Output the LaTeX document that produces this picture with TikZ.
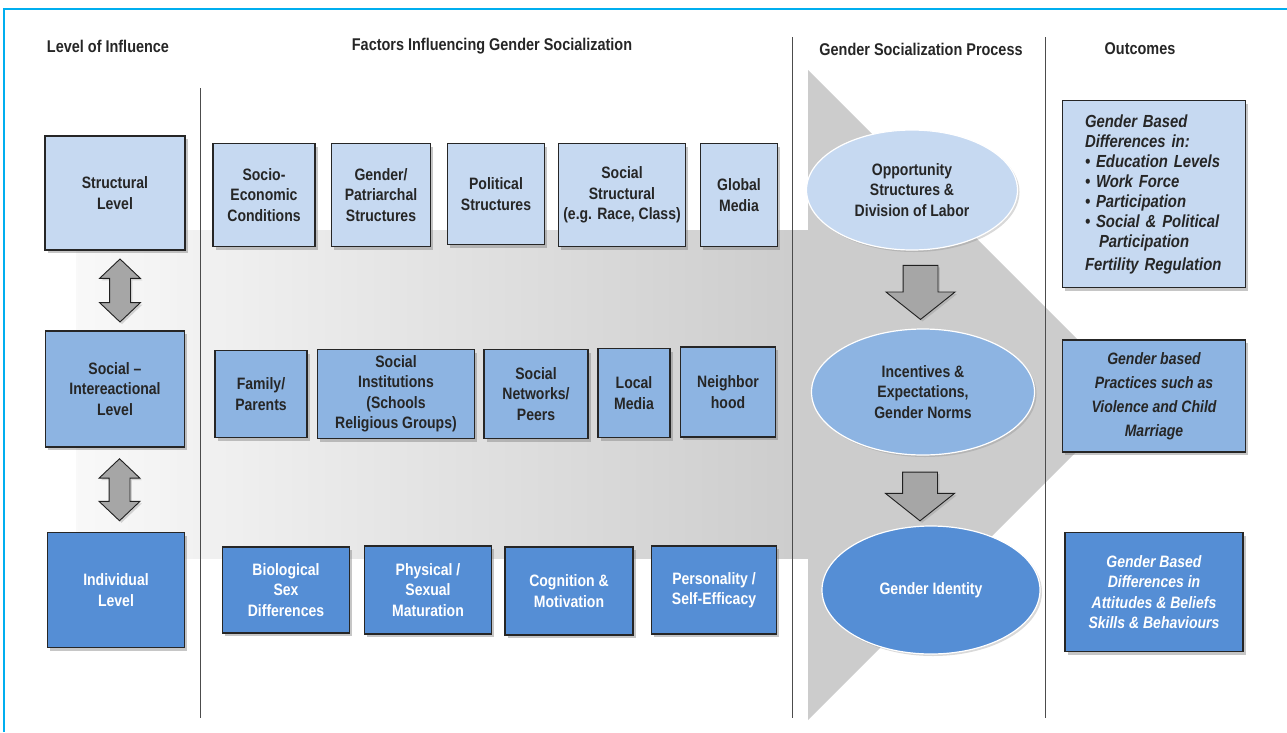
\documentclass[tikz,border=0pt]{standalone}
\usepackage{fontspec}
\setmainfont{Liberation Sans}[FakeStretch=0.85]
\usetikzlibrary{positioning,calc,shapes.geometric,shapes.arrows,shadows}

\definecolor{paleblue}{RGB}{198,217,241}
\definecolor{midblue}{RGB}{141,180,226}
\definecolor{deepblue}{RGB}{85,142,213}
\definecolor{framecyan}{RGB}{0,174,239}
\definecolor{boxline}{RGB}{38,38,38}
\newcommand\boxfont{\fontsize{16.5}{20.5}\selectfont\bfseries}
\newcommand\headfont{\fontsize{17}{19}\selectfont\bfseries}

\tikzset{
  factor/.style={draw=boxline, line width=1.1pt, align=center, inner sep=2pt, text=black!85,
    font=\boxfont, drop shadow={shadow xshift=2.5pt, shadow yshift=-3pt, opacity=0.45}},
  levelone/.style={factor, fill=paleblue},
  leveltwo/.style={factor, fill=midblue},
  levelthree/.style={factor, fill=deepblue, text=white},
  process/.style={ellipse, draw=white, line width=1.2pt, align=center, font=\boxfont, text=black!85,
    drop shadow={shadow xshift=2pt, shadow yshift=-2pt, opacity=0.3}},
  heading/.style={font=\headfont, text=black!85},
  sepline/.style={draw=gray!60!black, line width=0.8pt},
  linkarrow/.style={double arrow, shape border rotate=90, fill=gray!70, draw=gray!25!black,
    line width=0.9pt, inner sep=10pt, double arrow head extend=10pt, double arrow tip angle=93,
    drop shadow={shadow xshift=2pt, shadow yshift=-2pt, opacity=0.3}},
  flowarrow/.style={single arrow, shape border rotate=270, fill=gray!70, draw=gray!25!black,
    line width=0.9pt, inner sep=17pt, single arrow head extend=17pt, single arrow tip angle=103,
    drop shadow={shadow xshift=2pt, shadow yshift=-2pt, opacity=0.3}}
}

\begin{document}
\begin{tikzpicture}[x=1pt,y=-1pt]
  \useasboundingbox (0,0) rectangle (1287,732);
  % background arrow
  \shade[left color=gray!5, right color=gray!40] (76,230) -- (808,230) -- (808,558) -- (76,558) -- cycle;
  \fill[gray!40] (808,70) -- (1133,395) -- (808,720) -- cycle;
  \draw[framecyan, line width=2pt] (4,732) -- (4,9) -- (1287,9);
  \draw[sepline] (200,88) -- (200,718);
  \draw[sepline] (792,37) -- (792,718);
  \draw[sepline] (1045,37) -- (1045,718);

  \node[heading] (hlevel) at (108,46) {Level of Influence};
  \node[heading] (hfactor) at (492,46) {Factors Influencing Gender Socialization};
  \node[heading] (hprocess) at (921,49) {Gender Socialization Process};
  \node[heading] (houtcome) at (1140,49) {Outcomes};

  % levels
  \node[levelone, minimum width=140pt, minimum height=114pt] (structural) at (115,193) {Structural\\Level};
  \node[leveltwo, minimum width=139pt, minimum height=116pt] (social) at (115,389) {Social --\\Intereactional\\Level};
  \node[levelthree, minimum width=137pt, minimum height=115pt] (individual) at (116,590) {Individual\\Level};
  \node[linkarrow, minimum height=63pt] (link1) at ($(structural.south)!0.5!(social.north)+(5,0)$) {};
  \node[linkarrow, minimum height=62pt] (link2) at ($(social.south)!0.5!(individual.north)+(4,0)$) {};

  % factors
  \node[levelone, minimum width=102pt, minimum height=103pt] (socioeco) at (264,195) {Socio-\\Economic\\Conditions};
  \node[levelone, minimum width=99pt, minimum height=103pt] (patriarch) at (381,195) {Gender/\\Patriarchal\\Structures};
  \node[levelone, minimum width=97pt, minimum height=101pt] (political) at (496,194) {Political\\Structures};
  \node[levelone, minimum width=127pt, minimum height=103pt] (racial) at (622,195) {Social\\Structural\\(e.g. Race, Class)};
  \node[levelone, minimum width=77pt, minimum height=103pt] (globalmedia) at (739,195) {Global\\Media};

  \node[leveltwo, minimum width=92pt, minimum height=87pt] (family) at (261,394) {Family/\\Parents};
  \node[leveltwo, minimum width=157pt, minimum height=89pt] (institutions) at (396,394) {Social\\Institutions\\(Schools\\Religious Groups)};
  \node[leveltwo, minimum width=104pt, minimum height=89pt] (peers) at (536,394) {Social\\Networks/\\Peers};
  \node[leveltwo, minimum width=72pt, minimum height=89pt] (localmedia) at (634,393) {Local\\Media};
  \node[leveltwo, minimum width=95pt, minimum height=90pt] (neighbor) at (728,392) {Neighbor\\hood};

  \node[levelthree, minimum width=127pt, minimum height=86pt] (biology) at (286,590) {Biological\\Sex\\Differences};
  \node[levelthree, minimum width=127pt, minimum height=88pt] (maturation) at (428,590) {Physical /\\Sexual\\Maturation};
  \node[levelthree, minimum width=128pt, minimum height=88pt] (cognition) at (569,591) {Cognition \&\\Motivation};
  \node[levelthree, minimum width=125pt, minimum height=88pt] (personality) at (714,590) {Personality /\\Self-Efficacy};

  % process
  \node[process, fill=paleblue, minimum width=211pt, minimum height=120pt] (opportunity) at (912,190) {Opportunity\\Structures \&\\Division of Labor};
  \node[process, fill=midblue, minimum width=223pt, minimum height=126pt] (incentives) at (923,392) {Incentives \&\\Expectations,\\Gender Norms};
  \node[process, fill=deepblue, text=white, minimum width=218pt, minimum height=128pt] (identity) at (931,590) {Gender Identity};
  \node[flowarrow, minimum height=54pt] (flow1) at ($(opportunity.south)!0.5!(incentives.north)+(3,-4)$) {};
  \node[flowarrow, minimum height=45pt] (flow2) at ($(incentives.south)!0.5!(identity.north)+(-7,-1)$) {};

  % outcomes
  \node[levelone, minimum width=183pt, minimum height=187pt, font=\fontsize{17.5}{20}\selectfont\bfseries\itshape,
    align=left, text width=138pt] (education) at (1154,194)
    {Gender Based\\Differences in:\\\textbullet\ Education Levels\\\textbullet\ Work Force\\\textbullet\ Participation\\\textbullet\ Social \& Political\\\hspace*{0.8em}Participation\\[3pt]Fertility Regulation};
  \node[leveltwo, minimum width=183pt, minimum height=112pt, font=\fontsize{16.5}{24}\selectfont\bfseries\itshape] (practices) at (1154,396)
    {Gender based\\Practices such as\\Violence and Child\\Marriage};
  \node[levelthree, minimum width=178pt, minimum height=119pt, font=\boxfont\itshape] (attitudes) at (1154,592)
    {Gender Based\\Differences in\\Attitudes \& Beliefs\\Skills \& Behaviours};
\end{tikzpicture}
\end{document}
